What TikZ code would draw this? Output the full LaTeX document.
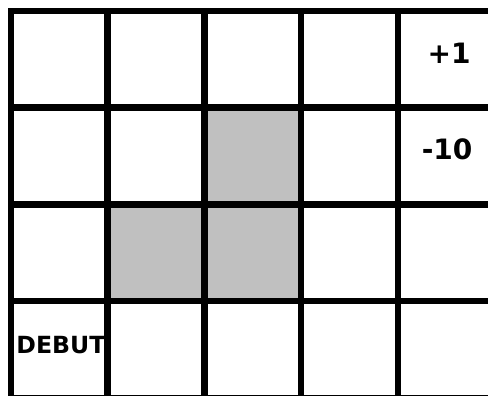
\documentclass[tikz,border=0pt]{standalone}
\usepackage{fontspec}
\setmainfont{DejaVu Sans}
\definecolor{wallgray}{RGB}{192,192,192}
\begin{document}
\begin{tikzpicture}[x=2cm, y=2cm, gridline/.style={line width=3.8pt, black, line cap=rect}, wall/.style={fill=wallgray}, reward/.style={font=\bfseries\fontsize{16.5}{18}\selectfont, inner sep=0pt}, start/.style={font=\bfseries\fontsize{13.9}{15}\selectfont, inner sep=0pt}]
\useasboundingbox (-0.114,0.114) rectangle (4.933,-3.975);
\clip (-0.114,0.114) rectangle (4.933,-3.975);
% walls
\fill[wall] (2,-1) rectangle (3,-2);
\fill[wall] (1,-2) rectangle (3,-3);
% grid
\foreach \i in {0,...,5}
  \draw[gridline] (\i,0) -- (\i,-4);
\foreach \j in {0,...,4}
  \draw[gridline] (0,-\j) -- (5,-\j);
% labels
\node[reward] (goal) at (4.53,-0.434) {+1};
\node[reward] (pit) at (4.51,-1.43) {-10};
\node[start] (debut) at (0.517,-3.454) {DEBUT};
\end{tikzpicture}
\end{document}
